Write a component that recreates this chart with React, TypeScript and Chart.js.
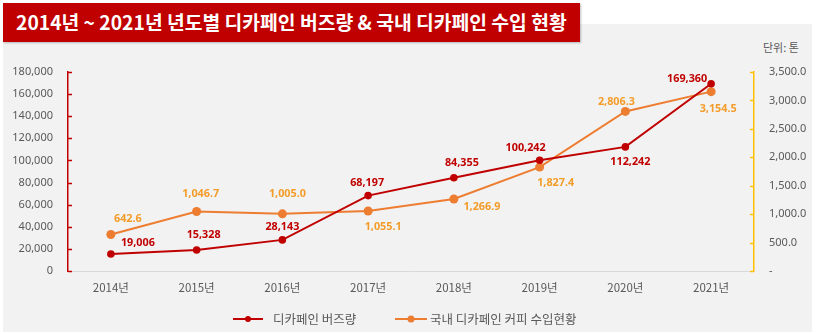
import React, { useEffect, useRef } from "react";
import { Chart, registerables } from "chart.js";

Chart.register(...registerables);

const years = ["2014년", "2015년", "2016년", "2017년", "2018년", "2019년", "2020년", "2021년"];
const buzzValues = [15328, 19006, 28143, 68197, 84355, 100242, 112242, 169360];
const buzzLabels = ["19,006", "15,328", "28,143", "68,197", "84,355", "100,242", "112,242", "169,360"];
const importValues = [642.6, 1046.7, 1005.0, 1055.1, 1266.9, 1827.4, 2806.3, 3154.5];
const buzzName = "디카페인 버즈량";
const importName = "국내 디카페인 커피 수입현황";
const titleText = "2014년 ~ 2021년 년도별 디카페인 버즈량 & 국내 디카페인 수입 현황";
const unitText = "단위: 톤";

// label placement offsets (style)
const buzzOffsets = [[27, -11], [7, -15], [0, -13], [-1, -13], [8, -15], [-14, -12], [5, 15], [-24, -5]];
const importOffsets = [[17, -16], [4, -18], [5, -20], [15, 16], [28, 8], [16, 16], [-9, -10], [7, 17]];

const RED = "#C00000";
const ORANGE = "#ED7D31";
const ORANGE_TXT = "#F39C29";
const YELLOW = "#FFC000";
const TXT = "#595959";
const FONT = "'Noto Sans', 'Noto Sans CJK KR', sans-serif";
const KFONT = "'Noto Sans CJK KR', 'Noto Sans', sans-serif";

const labelPlugin = {
  id: "customLabels",
  afterDatasetsDraw(chart: any) {
    const ctx = chart.ctx;
    ctx.save();
    ctx.font = `bold 10.8px ${FONT}`;
    ctx.textAlign = "center";
    ctx.textBaseline = "middle";
    const sets = [
      { idx: 0, labels: buzzLabels, offs: buzzOffsets, color: RED },
      {
        idx: 1,
        labels: importValues.map((v) => v.toLocaleString("en-US", { minimumFractionDigits: 1, maximumFractionDigits: 1 })),
        offs: importOffsets,
        color: ORANGE_TXT,
      },
    ];
    for (const s of sets) {
      const meta = chart.getDatasetMeta(s.idx);
      ctx.fillStyle = s.color;
      meta.data.forEach((pt: any, i: number) => {
        ctx.fillText(s.labels[i], pt.x + s.offs[i][0], pt.y + s.offs[i][1]);
      });
    }
    ctx.restore();
  },
  afterDraw(chart: any) {
    const ctx = chart.ctx;
    ctx.save();
    // inward tick marks
    const y = chart.scales.y;
    const y1 = chart.scales.y1;
    ctx.lineWidth = 1.5;
    ctx.strokeStyle = RED;
    y.ticks.forEach((_t: any, i: number) => {
      const py = Math.round(y.getPixelForTick(i)) + 0.5;
      ctx.beginPath();
      ctx.moveTo(y.right, py);
      ctx.lineTo(y.right + 4, py);
      ctx.stroke();
    });
    ctx.strokeStyle = YELLOW;
    y1.ticks.forEach((_t: any, i: number) => {
      const py = Math.round(y1.getPixelForTick(i)) + 0.5;
      ctx.beginPath();
      ctx.moveTo(y1.left, py);
      ctx.lineTo(y1.left - 4, py);
      ctx.stroke();
    });
    // legend
    const ly = 319;
    const items = [
      { x0: 233, x1: 263, color: RED, r: 3, text: buzzName, tx: 273 },
      { x0: 395, x1: 427, color: ORANGE, r: 3.5, text: importName, tx: 430 },
    ];
    ctx.font = `12.5px ${KFONT}`;
    ctx.textBaseline = "middle";
    ctx.textAlign = "left";
    for (const it of items) {
      ctx.strokeStyle = it.color;
      ctx.lineWidth = 2;
      ctx.beginPath();
      ctx.moveTo(it.x0, ly);
      ctx.lineTo(it.x1, ly);
      ctx.stroke();
      ctx.fillStyle = it.color;
      ctx.beginPath();
      ctx.arc((it.x0 + it.x1) / 2, ly, it.r, 0, Math.PI * 2);
      ctx.fill();
      ctx.fillStyle = TXT;
      ctx.fillText(it.text, it.tx, ly);
    }
    ctx.restore();
  },
};

export default function App() {
  const ref = useRef<HTMLCanvasElement | null>(null);
  useEffect(() => {
    if (!ref.current) return;
    const chart = new Chart(ref.current, {
      type: "line",
      data: {
        labels: years,
        datasets: [
          {
            label: buzzName,
            data: buzzValues,
            yAxisID: "y",
            borderColor: RED,
            backgroundColor: RED,
            borderWidth: 2,
            pointRadius: 3.8,
            pointBackgroundColor: RED,
            pointBorderWidth: 0,
            tension: 0,
            order: 0,
          },
          {
            label: importName,
            data: importValues,
            yAxisID: "y1",
            borderColor: ORANGE,
            backgroundColor: ORANGE,
            borderWidth: 2,
            pointRadius: 4.5,
            pointBackgroundColor: ORANGE,
            pointBorderWidth: 0,
            tension: 0,
            order: 1,
          },
        ],
      },
      options: {
        responsive: false,
        animation: false,
        layout: { padding: { top: 72, left: 0, right: 0, bottom: 0 } },
        plugins: { legend: { display: false }, tooltip: { enabled: false } },
        scales: {
          x: {
            type: "category",
            offset: true,
            grid: { display: true, drawOnChartArea: false, drawTicks: false, color: "rgba(0,0,0,0)" },
            border: { display: true, color: "#D9D9D9", width: 1 },
            ticks: { color: TXT, font: { family: KFONT, size: 11.5 }, padding: 10, maxRotation: 0 },
            afterFit: (s: any) => {
              s.height = 63;
            },
          },
          y: {
            position: "left",
            min: 0,
            max: 180000,
            ticks: {
              stepSize: 20000,
              color: TXT,
              font: { family: FONT, size: 11 },
              padding: 15,
              callback: (v: any) => Number(v).toLocaleString("en-US"),
            },
            grid: { display: true, drawOnChartArea: false, drawTicks: false, color: "rgba(0,0,0,0)" },
            border: { display: true, color: RED, width: 1.5 },
            afterFit: (s: any) => {
              s.width = 68;
            },
          },
          y1: {
            position: "right",
            min: 0,
            max: 3500,
            ticks: {
              stepSize: 500,
              color: TXT,
              font: { family: FONT, size: 11 },
              padding: 15,
              callback: (v: any) =>
                Number(v) === 0 ? "-" : Number(v).toLocaleString("en-US", { minimumFractionDigits: 1, maximumFractionDigits: 1 }),
            },
            grid: { display: true, drawOnChartArea: false, drawTicks: false, color: "rgba(0,0,0,0)" },
            border: { display: true, color: YELLOW, width: 1.5 },
            afterFit: (s: any) => {
              s.width = 62;
            },
          },
        },
      },
      plugins: [labelPlugin],
    } as any);
    return () => chart.destroy();
  }, []);

  return (
    <div style={{ position: "fixed", left: 0, top: 0, width: 816, height: 334, background: "#FFFFFF", overflow: "hidden" }}>
      <div style={{ position: "absolute", left: 3, top: 24, width: 809, height: 308, background: "#F2F2F2" }} />
      <div
        style={{
          position: "absolute",
          left: 3,
          top: 3,
          width: 577,
          height: 39,
          background: RED,
          boxShadow: "1px 1px 2px rgba(0,0,0,0.25)",
          color: "#FFFFFF",
          fontFamily: KFONT,
          fontWeight: 700,
          fontSize: 19.3,
          lineHeight: "39px",
          paddingLeft: 13,
          boxSizing: "border-box",
          whiteSpace: "nowrap",
        }}
      >
        {titleText}
      </div>
      <div
        style={{
          position: "absolute",
          left: 763,
          top: 39,
          fontFamily: KFONT,
          fontSize: 11,
          color: TXT,
          lineHeight: "16px",
          whiteSpace: "nowrap",
        }}
      >
        {unitText}
      </div>
      <canvas ref={ref} width={816} height={334} style={{ position: "absolute", left: 0, top: 0, width: 816, height: 334 }} />
    </div>
  );
}
